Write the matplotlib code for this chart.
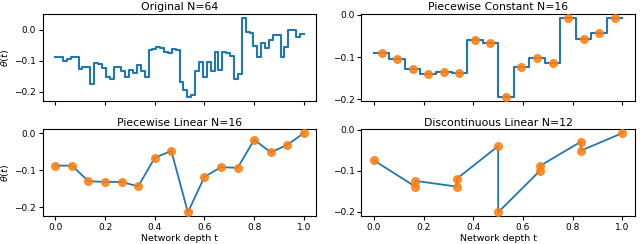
import numpy as np
import matplotlib
matplotlib.use("Agg")
import matplotlib.pyplot as plt

# original signal, 64 steps over [0, 1]
original = [
    -0.086, -0.088, -0.099, -0.095, -0.088, -0.088, -0.127, -0.118,
    -0.120, -0.174, -0.108, -0.110, -0.124, -0.151, -0.159, -0.118,
    -0.120, -0.134, -0.151, -0.129, -0.138, -0.113, -0.134, -0.151,
    -0.065, -0.062, -0.056, -0.059, -0.070, -0.075, -0.062, -0.065,
    -0.167, -0.194, -0.217, -0.210, -0.134, -0.102, -0.151, -0.102,
    -0.134, -0.070, -0.130, -0.070, -0.075, -0.085, -0.158, -0.142,
    0.039, -0.005, -0.011, -0.052, -0.086, -0.043, -0.059, -0.032,
    -0.016, -0.016, -0.086, -0.054, 0.000, 0.000, -0.022, -0.013,
]

# piecewise constant, 16 pieces (value at each piece centre)
pc_values = [
    -0.091, -0.104, -0.128, -0.139, -0.135, -0.137, -0.059, -0.066,
    -0.195, -0.124, -0.102, -0.115, -0.007, -0.057, -0.044, -0.007,
]

# piecewise linear, 16 nodes evenly spaced on [0, 1]
pl_values = [
    -0.088, -0.088, -0.130, -0.132, -0.132, -0.144, -0.067, -0.048,
    -0.214, -0.118, -0.092, -0.094, -0.018, -0.052, -0.032, 0.000,
]

# discontinuous linear, 6 pieces with 2 end values each
dl_t = [0, 1/6, 1/6, 1/3, 1/3, 1/2, 1/2, 2/3, 2/3, 5/6, 5/6, 1]
dl_values = [
    -0.075, -0.139, -0.125, -0.139, -0.120, -0.040,
    -0.202, -0.101, -0.089, -0.029, -0.051, -0.008,
]


def step_line(ax, values):
    # draw a step function on an even grid over [0, 1]
    edges = np.linspace(0, 1, len(values) + 1)
    ax.step(edges, list(values) + [values[-1]], where='post', color='C0', lw=1.5)


fig, axes = plt.subplots(2, 2, figsize=(6.4, 2.44), dpi=100, sharex=True)
fig.subplots_adjust(left=0.067, right=0.992, bottom=0.1135, top=0.943,
                    wspace=0.165, hspace=0.32)

dot_kw = dict(color='C1', s=30, alpha=0.85, zorder=3)
title_kw = dict(fontsize=7.8, pad=2.5)

ax = axes[0, 0]
step_line(ax, original)
ax.set_title('Original N=64', **title_kw)
ax.set_ylabel(r'$\theta(t)$', fontsize=6.8, labelpad=2)

ax = axes[0, 1]
n = len(pc_values)
step_line(ax, np.repeat(pc_values, len(original) // n))
ax.scatter((np.arange(n) + 0.5) / n, pc_values, **dot_kw)
ax.set_title('Piecewise Constant N=16', **title_kw)

ax = axes[1, 0]
pl_t = np.linspace(0, 1, len(pl_values))
ax.plot(pl_t, pl_values, color='C0', lw=1.3)
ax.scatter(pl_t, pl_values, **dot_kw)
ax.set_title('Piecewise Linear N=16', **title_kw)
ax.set_ylabel(r'$\theta(t)$', fontsize=6.8, labelpad=2)
ax.set_xlabel('Network depth t', fontsize=6.8, labelpad=1.5)

ax = axes[1, 1]
ax.plot(dl_t, dl_values, color='C0', lw=1.3)
ax.scatter(dl_t, dl_values, **dot_kw)
ax.set_title('Discontinuous Linear N=12', **title_kw)
ax.set_xlabel('Network depth t', fontsize=6.8, labelpad=1.5)

for ax in axes.flat:
    ax.set_yticks([0.0, -0.1, -0.2])
    ax.tick_params(labelsize=6.5, length=3, pad=2)

fig.savefig('out.png', dpi=100)
